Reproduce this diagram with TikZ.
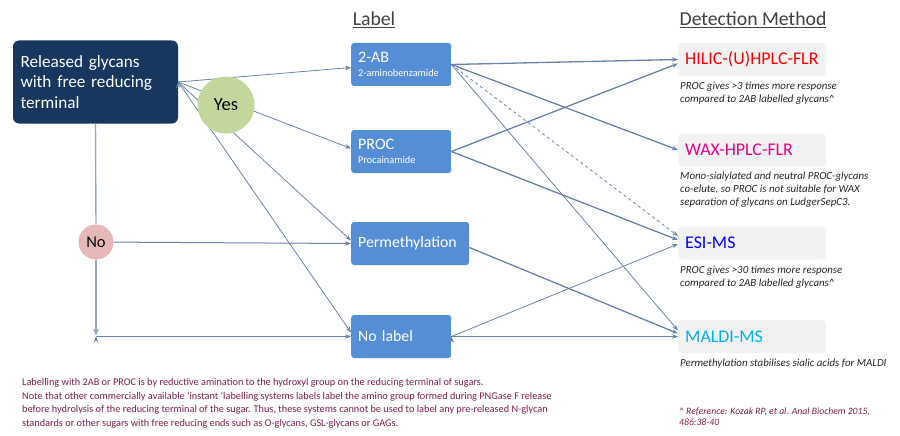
\documentclass[tikz,border=0pt]{standalone}
\usepackage{fontspec}
\setmainfont{Carlito}
\usetikzlibrary{positioning,arrows.meta}

\definecolor{navy}{HTML}{17375E}
\definecolor{boxblue}{HTML}{558ED5}
\definecolor{yesgreen}{HTML}{C3D69B}
\definecolor{nopink}{HTML}{E6B9B8}
\definecolor{methodgrey}{HTML}{F2F2F2}
\definecolor{linkblue}{HTML}{6A83AB}
\definecolor{stemblue}{HTML}{93A6C6}
\definecolor{headgrey}{HTML}{404040}
\definecolor{notegrey}{HTML}{262626}
\definecolor{maroon}{HTML}{7E1F4F}

\newcommand{\fs}[2]{\fontsize{#1}{#2}\selectfont}

\begin{document}
\begin{tikzpicture}[x=1pt,y=-1pt,
  start/.style={fill=navy,rounded corners=6pt,minimum width=165pt,minimum height=83pt,
    text width=150pt,align=left,text=white,font=\fs{17.2}{20.5}},
  choice/.style={circle,inner sep=0pt,text=black},
  labelbox/.style={fill=boxblue,rounded corners=3pt,anchor=west,minimum height=43pt,
    inner xsep=7pt,align=left,text=white},
  methodbox/.style={fill=methodgrey,rounded corners=4pt,anchor=west,minimum width=148pt,
    minimum height=33pt,text width=134pt,inner xsep=7pt,align=left,font=\fs{17.9}{20}},
  note/.style={anchor=north west,inner sep=0pt,align=left,text=notegrey,
    font=\itshape\fs{10.9}{12.8}},
  head/.style={text=headgrey,font=\fs{19.7}{22}},
  link/.style={draw=linkblue,line width=0.8pt,-{Stealth[length=6pt,width=4.5pt]}},
  bold link/.style={link,line width=1.3pt}]
\useasboundingbox (0,0) rectangle (900,436);

% headings
\node[head] (labelhead) at (374,20) {\underline{Label}};
\node[head] (methodhead) at (753,20) {\underline{Detection Method}};

% start and decisions
\node[start] (rel) at (95.5,82) {Released glycans\\with free reducing\\terminal};
\node[choice,fill=nopink,minimum size=35pt,font=\fs{16.5}{18}] (no) at (96,242) {No};

% labels
\node[labelbox,text width=86pt] (ab) at (351,64.5)
  {{\fs{16}{17}2-AB}\\[1.5pt]{\fs{10.3}{11}2-aminobenzamide}};
\node[labelbox,text width=86pt] (proc) at (351,151.5)
  {{\fs{16}{17}PROC}\\[1.5pt]{\fs{10.3}{11}Procainamide}};
\node[labelbox,text width=104pt,font=\fs{15.8}{17}] (perm) at (351,243.5) {Permethylation};
\node[labelbox,text width=86pt,font=\fs{15.8}{17}] (nolabel) at (351,336.5) {No label};

% detection methods
\node[methodbox,text=red] (hilic) at (678,59.5) {HILIC-(U)HPLC-FLR};
\node[methodbox,text=magenta] (wax) at (678,150) {WAX-HPLC-FLR};
\node[methodbox,text=blue] (esi) at (678,243) {ESI-MS};
\node[methodbox,text={rgb,255:red,0;green,176;blue,240}] (maldi) at (678,336.5) {MALDI-MS};

\node[note] (hilicnote) [below=6pt of hilic.south west,anchor=north west,xshift=2pt]
  {PROC gives >3 times more response\\compared to 2AB labelled glycans\^{}};
\node[note] (waxnote) [below=5pt of wax.south west,anchor=north west,xshift=2pt]
  {Mono-sialylated and neutral PROC-glycans\\co-elute, so PROC is not suitable for WAX\\separation of glycans on LudgerSepC3.};
\node[note] (esinote) [below=6pt of esi.south west,anchor=north west,xshift=2pt]
  {PROC gives >30 times more response\\compared to 2AB labelled glycans\^{}};
\node[note] (maldinote) [below=6pt of maldi.south west,anchor=north west,xshift=2pt]
  {Permethylation stabilises sialic acids for MALDI};
\node[note,text=maroon,font=\itshape\fs{9.7}{11.5}] (ref) at (679,407.5)
  {\^{} Reference: Kozak RP, et al. Anal Biochem 2015,\\486:38-40};

% footnote
\node[anchor=north west,inner sep=0pt,align=left,text=maroon,font=\fs{10.3}{13.8}] (foot) at (22,378)
  {Labelling with 2AB or PROC is by reductive amination to the hydroxyl group on the reducing terminal of sugars.\\
   Note that other commercially available ‘instant ‘labelling systems labels label the amino group formed during PNGase F release\\
   before hydrolysis of the reducing terminal of the sugar. Thus, these systems cannot be used to label any pre-released N-glycan\\
   standards or other sugars with free reducing ends such as O-glycans, GSL-glycans or GAGs.};

% yes branch
\path[link]
(rel.east) edge ([yshift=-3pt]ab.west)
           edge ([yshift=3pt]proc.west)
           edge ([yshift=3pt]perm.west)
           edge ([yshift=4pt]nolabel.west);
\node[choice,fill=yesgreen,minimum size=57pt,font=\fs{18.5}{20}] (yes) at (226,105) {Yes};

% no branch
\coordinate (corner) at (no |- nolabel.west);
\draw[stemblue,line width=1.4pt] (rel.south) -- (no.north);
\draw[stemblue,line width=1.4pt,-{Stealth[length=7pt,width=6pt]}] (no.south) -- ([yshift=1pt]corner);
\path[link,line width=1pt]
(no) edge (perm.west)
(corner) edge (nolabel.west);

% labels to methods
\path[bold link]
(ab.east) edge (hilic.west)
          edge (wax.west)
(proc.east) edge ([yshift=-4pt]hilic.west)
            edge ([yshift=3pt]esi.west)
([yshift=-4pt]perm.east) edge ([yshift=3pt]maldi.west)
(nolabel.east) edge (maldi.west);
\path[link]
(ab.east) edge[dashed] ([yshift=7pt]esi.west)
          edge ([yshift=6pt]maldi.west)
(nolabel.east) edge ([yshift=-1pt]esi.west);
\end{tikzpicture}
\end{document}
